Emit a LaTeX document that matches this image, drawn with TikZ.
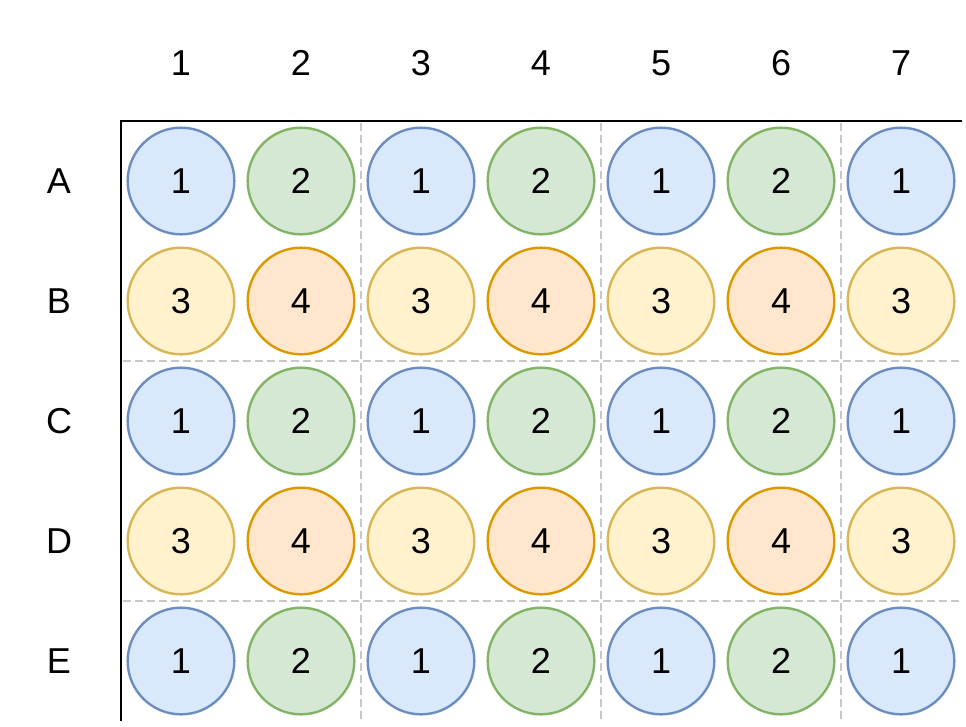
\documentclass[tikz,border=0pt]{standalone}
\usepackage{fontspec}
\setmainfont{Liberation Sans}

\definecolor{blueline}{HTML}{6C8EBF}
\definecolor{bluefill}{HTML}{DAE8FC}
\definecolor{greenline}{HTML}{82B366}
\definecolor{greenfill}{HTML}{D5E8D4}
\definecolor{yellowline}{HTML}{D6B656}
\definecolor{yellowfill}{HTML}{FFF2CC}
\definecolor{orangeline}{HTML}{D79B00}
\definecolor{orangefill}{HTML}{FFE6CC}
\definecolor{gridgray}{HTML}{C8C8C8}

\tikzset{
  labeltext/.style={font=\fontsize{27}{32}\selectfont},
  well/.style={circle, line width=1.8pt, minimum size=80pt, inner sep=0pt, labeltext},
  bluewell/.style={well, draw=blueline, fill=bluefill},
  greenwell/.style={well, draw=greenline, fill=greenfill},
  yellowwell/.style={well, draw=yellowline, fill=yellowfill},
  orangewell/.style={well, draw=orangeline, fill=orangefill},
  gridline/.style={draw=gridgray, line width=1.6pt, dash pattern=on 6pt off 3pt}
}

\begin{document}
\begin{tikzpicture}[x=0.75pt,y=-0.75pt]
            \useasboundingbox (0,0) rectangle (966,726);

            % Dashed grid
            \draw[gridline] (123,361) -- (962,361);
            \draw[gridline] (123,601) -- (962,601);
            \draw[gridline] (361,123) -- (361,720);
            \draw[gridline] (601,123) -- (601,720);
            \draw[gridline] (841,123) -- (841,720);

            % Axes
            \coordinate (corner) at (121,121);
            \coordinate (xend) at (962,121);
            \coordinate (yend) at (121,721);
            \draw[line width=2.1pt] (xend) -- (corner) -- (yend);

            % Column labels
            \node[labeltext] (c1) at (181,63) {1};
            \node[labeltext] (c2) at (301,63) {2};
            \node[labeltext] (c3) at (421,63) {3};
            \node[labeltext] (c4) at (541,63) {4};
            \node[labeltext] (c5) at (661,63) {5};
            \node[labeltext] (c6) at (781,63) {6};
            \node[labeltext] (c7) at (901,63) {7};

            % Row labels
            \node[labeltext] (rA) at (59,181) {A};
            \node[labeltext] (rB) at (59,301) {B};
            \node[labeltext] (rC) at (59,421) {C};
            \node[labeltext] (rD) at (59,541) {D};
            \node[labeltext] (rE) at (59,661) {E};

            % Row A
            \node[bluewell] (A1) at (181,181) {1};
            \node[greenwell] (A2) at (301,181) {2};
            \node[bluewell] (A3) at (421,181) {1};
            \node[greenwell] (A4) at (541,181) {2};
            \node[bluewell] (A5) at (661,181) {1};
            \node[greenwell] (A6) at (781,181) {2};
            \node[bluewell] (A7) at (901,181) {1};

            % Row B
            \node[yellowwell] (B1) at (181,301) {3};
            \node[orangewell] (B2) at (301,301) {4};
            \node[yellowwell] (B3) at (421,301) {3};
            \node[orangewell] (B4) at (541,301) {4};
            \node[yellowwell] (B5) at (661,301) {3};
            \node[orangewell] (B6) at (781,301) {4};
            \node[yellowwell] (B7) at (901,301) {3};

            % Row C
            \node[bluewell] (C1) at (181,421) {1};
            \node[greenwell] (C2) at (301,421) {2};
            \node[bluewell] (C3) at (421,421) {1};
            \node[greenwell] (C4) at (541,421) {2};
            \node[bluewell] (C5) at (661,421) {1};
            \node[greenwell] (C6) at (781,421) {2};
            \node[bluewell] (C7) at (901,421) {1};

            % Row D
            \node[yellowwell] (D1) at (181,541) {3};
            \node[orangewell] (D2) at (301,541) {4};
            \node[yellowwell] (D3) at (421,541) {3};
            \node[orangewell] (D4) at (541,541) {4};
            \node[yellowwell] (D5) at (661,541) {3};
            \node[orangewell] (D6) at (781,541) {4};
            \node[yellowwell] (D7) at (901,541) {3};

            % Row E
            \node[bluewell] (E1) at (181,661) {1};
            \node[greenwell] (E2) at (301,661) {2};
            \node[bluewell] (E3) at (421,661) {1};
            \node[greenwell] (E4) at (541,661) {2};
            \node[bluewell] (E5) at (661,661) {1};
            \node[greenwell] (E6) at (781,661) {2};
            \node[bluewell] (E7) at (901,661) {1};
        \end{tikzpicture}
\end{document}
